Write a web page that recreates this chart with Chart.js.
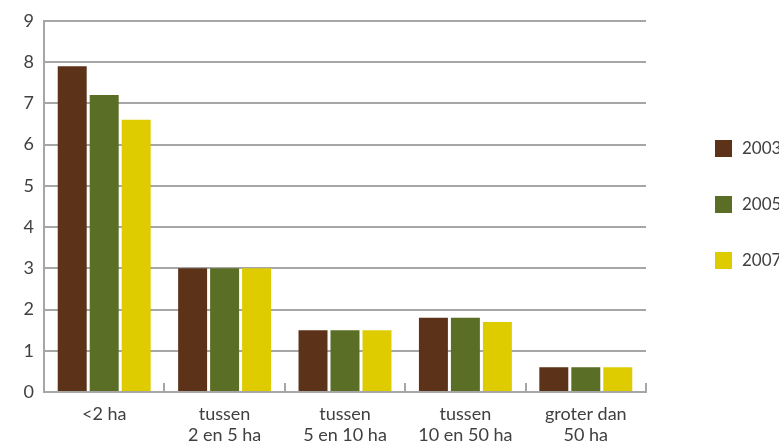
<!DOCTYPE html>
<html>
<head>
<meta charset="utf-8">
<script src="https://cdn.jsdelivr.net/npm/chart.js@4"></script>
<style>
  body { margin: 0; background: #fff; }
  #wrap { width: 779px; height: 444px; position: relative; }
</style>
</head>
<body>
<div id="wrap"><canvas id="chart"></canvas></div>
<script>
// data
const categories = [["<2 ha"], ["tussen", "2 en 5 ha"], ["tussen", "5 en 10 ha"], ["tussen", "10 en 50 ha"], ["groter dan", "50 ha"]];
const seriesNames = ["2003", "2005", "2007"];
const values2003 = [7.9, 3, 1.5, 1.8, 0.6];
const values2005 = [7.2, 3, 1.5, 1.8, 0.6];
const values2007 = [6.6, 3, 1.5, 1.7, 0.6];
const yTicks = [0, 1, 2, 3, 4, 5, 6, 7, 8, 9];

const colors = ["#5c3219", "#5a6e25", "#dfcc00"];
const textColor = "#404040";
const gridColor = "#a6a6a6";
const fontFamily = "Lato, 'Open Sans', sans-serif";

// small tick marks on the x axis + legend on the right
const extras = {
  id: "extras",
  afterDraw(chart) {
    const ctx = chart.ctx;
    const area = chart.chartArea;
    const n = categories.length;
    ctx.save();
    ctx.strokeStyle = gridColor;
    ctx.lineWidth = 2;
    for (let i = 1; i <= n; i++) {
      const x = Math.round(area.left + i * (area.right - area.left) / n);
      ctx.beginPath();
      ctx.moveTo(x, area.bottom);
      ctx.lineTo(x, area.bottom - 9);
      ctx.stroke();
    }
    // legend
    ctx.font = "17px " + fontFamily;
    ctx.textBaseline = "middle";
    chart.data.datasets.forEach((ds, i) => {
      const y = 140 + i * 56;
      ctx.fillStyle = ds.backgroundColor;
      ctx.fillRect(area.right + 69, y, 17, 17);
      ctx.fillStyle = textColor;
      ctx.fillText(ds.label, area.right + 96, y + 9);
    });
    ctx.restore();
  }
};

const ctx = document.getElementById("chart").getContext("2d");
new Chart(ctx, {
  type: "bar",
  data: {
    labels: categories,
    datasets: [
      { label: seriesNames[0], data: values2003, backgroundColor: colors[0] },
      { label: seriesNames[1], data: values2005, backgroundColor: colors[1] },
      { label: seriesNames[2], data: values2007, backgroundColor: colors[2] }
    ]
  },
  options: {
    responsive: true,
    maintainAspectRatio: false,
    animation: false,
    datasets: {
      bar: { categoryPercentage: 0.797, barPercentage: 0.906 }
    },
    layout: { padding: { left: 0, right: 133, top: 16, bottom: 0 } },
    plugins: {
      legend: { display: false },
      tooltip: { enabled: false }
    },
    scales: {
      x: {
        grid: { display: false, drawTicks: false },
        border: { color: gridColor, width: 2 },
        ticks: {
          color: textColor,
          font: { family: fontFamily, size: 18, lineHeight: 1.2 },
          padding: 11,
          maxRotation: 0
        },
        afterFit(scale) { scale.height = 52; }
      },
      y: {
        min: 0,
        max: 9,
        afterBuildTicks(scale) { scale.ticks = yTicks.map(v => ({ value: v })); },
        grid: { color: gridColor, lineWidth: 2, drawTicks: false },
        border: { color: gridColor, width: 2 },
        ticks: {
          color: textColor,
          font: { family: fontFamily, size: 18 },
          padding: 10
        },
        afterFit(scale) { scale.width = 44; }
      }
    }
  },
  plugins: [extras]
});
</script>
</body>
</html>
